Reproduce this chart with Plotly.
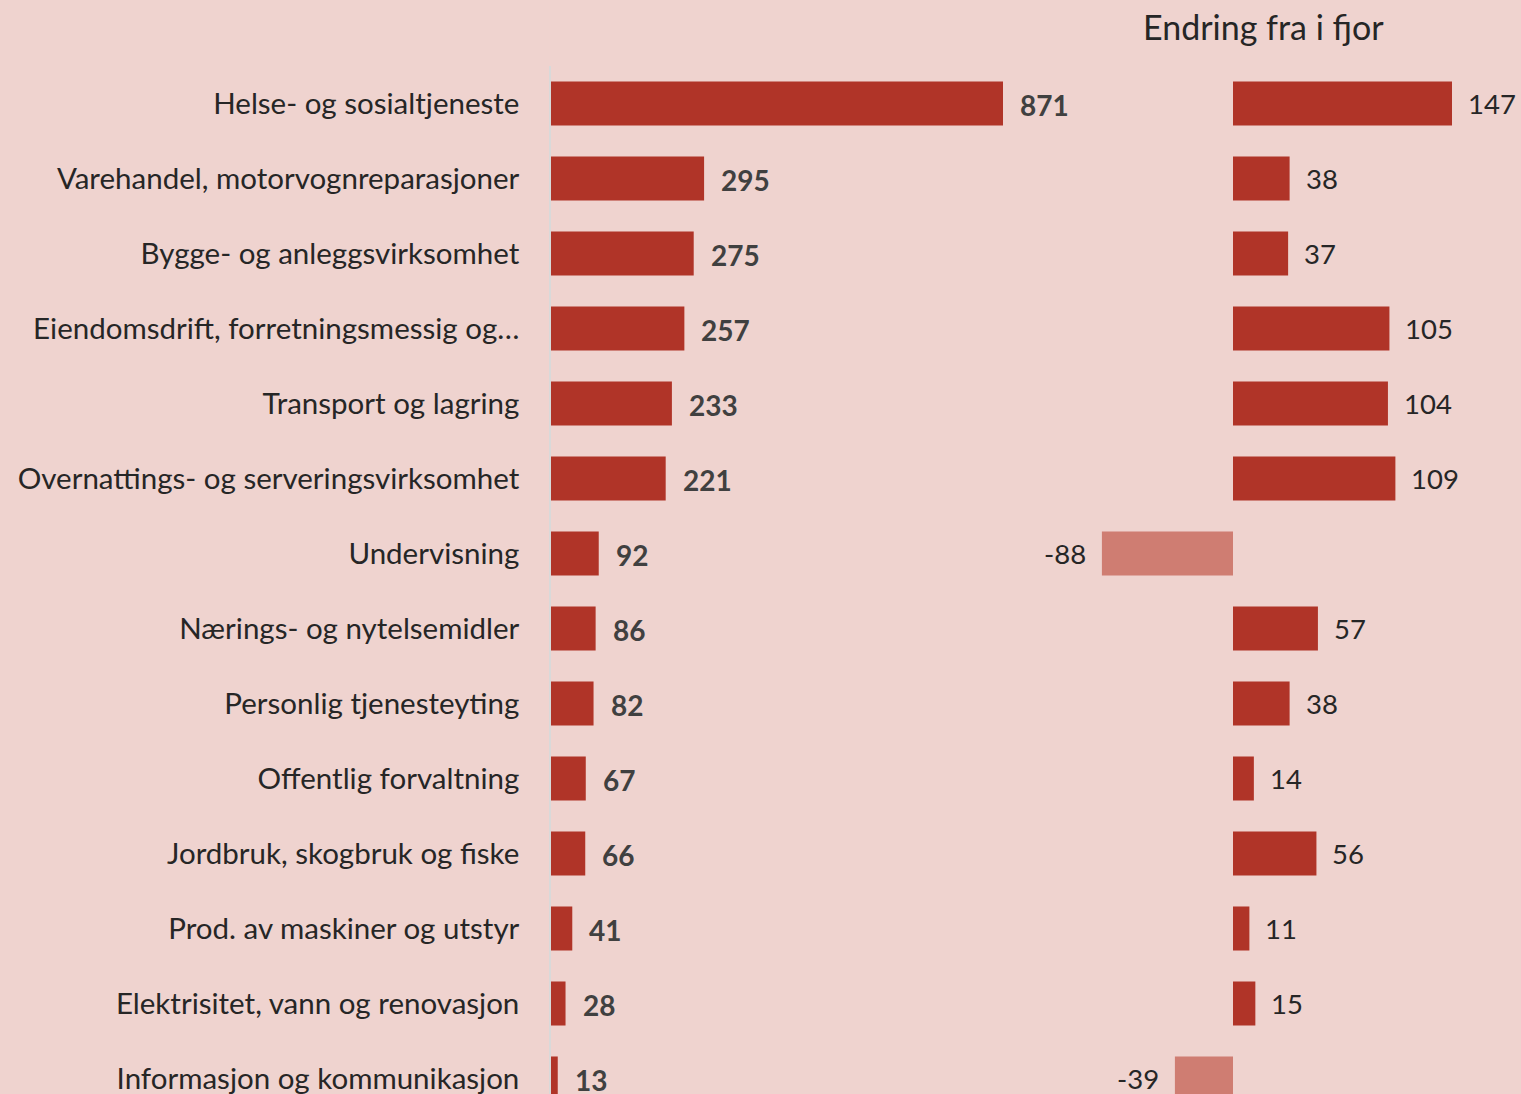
import plotly.graph_objects as go

# Data
categories = [
    "Helse- og sosialtjeneste",
    "Varehandel, motorvognreparasjoner",
    "Bygge- og anleggsvirksomhet",
    "Eiendomsdrift, forretningsmessig og…",
    "Transport og lagring",
    "Overnattings- og serveringsvirksomhet",
    "Undervisning",
    "Nærings- og nytelsemidler",
    "Personlig tjenesteyting",
    "Offentlig forvaltning",
    "Jordbruk, skogbruk og fiske",
    "Prod. av maskiner og utstyr",
    "Elektrisitet, vann og renovasjon",
    "Informasjon og kommunikasjon",
]
antall = [871, 295, 275, 257, 233, 221, 92, 86, 82, 67, 66, 41, 28, 13]
endring = [147, 38, 37, 105, 104, 109, -88, 57, 38, 14, 56, 11, 15, -39]
right_title = "Endring fra i fjor"

W, H = 1521, 1094
BG = "#EFD3CF"
RED = "#B03428"
RED_LIGHT = "#CF7D72"
FONT = "Lato"

# pixel layout
top = 66
pitch = 75
left_zero, left_px_per_unit = 551, 452 / 871
right_zero, right_px_per_unit = 1233, 219 / 147
left_end, right_start = 1090, 1095

n_rows_visible = (H - top) / pitch
y_range = [n_rows_visible - 0.5, -0.5]

fig = go.Figure()

fig.add_bar(
    x=antall, y=categories, orientation="h",
    marker=dict(color=RED, line_width=0),
    xaxis="x", yaxis="y", hoverinfo="x+y",
)
fig.add_bar(
    x=endring, y=categories, orientation="h",
    marker=dict(color=[RED if v >= 0 else RED_LIGHT for v in endring], line_width=0),
    xaxis="x2", yaxis="y", hoverinfo="x+y",
)

annotations = []
for c, v in zip(categories, antall):
    annotations.append(dict(
        x=v, y=c, xref="x", yref="y", text=f"<b>{v}</b>", showarrow=False,
        xanchor="left", xshift=15, yshift=-1,
        font=dict(family=FONT, size=28, color="#404040"),
    ))
for c, v in zip(categories, endring):
    annotations.append(dict(
        x=v, y=c, xref="x2", yref="y", text=str(v), showarrow=False,
        xanchor="left" if v >= 0 else "right", xshift=14 if v >= 0 else -14,
        font=dict(family=FONT, size=27.5, color="#262626"),
    ))
annotations.append(dict(
    x=1263 / W, y=1 + (top - 27) / (H - top), xref="paper", yref="paper",
    text=right_title, showarrow=False, xanchor="center", yanchor="middle",
    font=dict(family=FONT, size=34, color="#262626"),
))

fig.update_layout(
    width=W, height=H,
    margin=dict(l=0, r=0, t=top, b=0),
    paper_bgcolor=BG, plot_bgcolor=BG,
    showlegend=False, bargap=0.413,
    font=dict(family=FONT, size=28, color="#262626"),
    annotations=annotations,
    xaxis=dict(
        domain=[left_zero / W, left_end / W],
        range=[0, (left_end - left_zero) / left_px_per_unit],
        visible=False, fixedrange=True,
    ),
    xaxis2=dict(
        domain=[right_start / W, 1],
        range=[(right_start - right_zero) / right_px_per_unit,
               (W - right_zero) / right_px_per_unit],
        visible=False, fixedrange=True, anchor="y",
    ),
    yaxis=dict(
        type="category", categoryorder="array", categoryarray=categories,
        range=y_range, showgrid=False, zeroline=False,
        showline=True, linecolor="#D9D9D9", linewidth=1.5,
        ticks="", ticklabelstandoff=24,
        tickfont=dict(family=FONT, size=29.5, color="#262626"),
        anchor="x",
    ),
)

# page body margin would shift the figure by 8px
fig.write_html(
    "out.html",
    config={"displayModeBar": False},
    post_script="document.body.style.margin='0';",
)
